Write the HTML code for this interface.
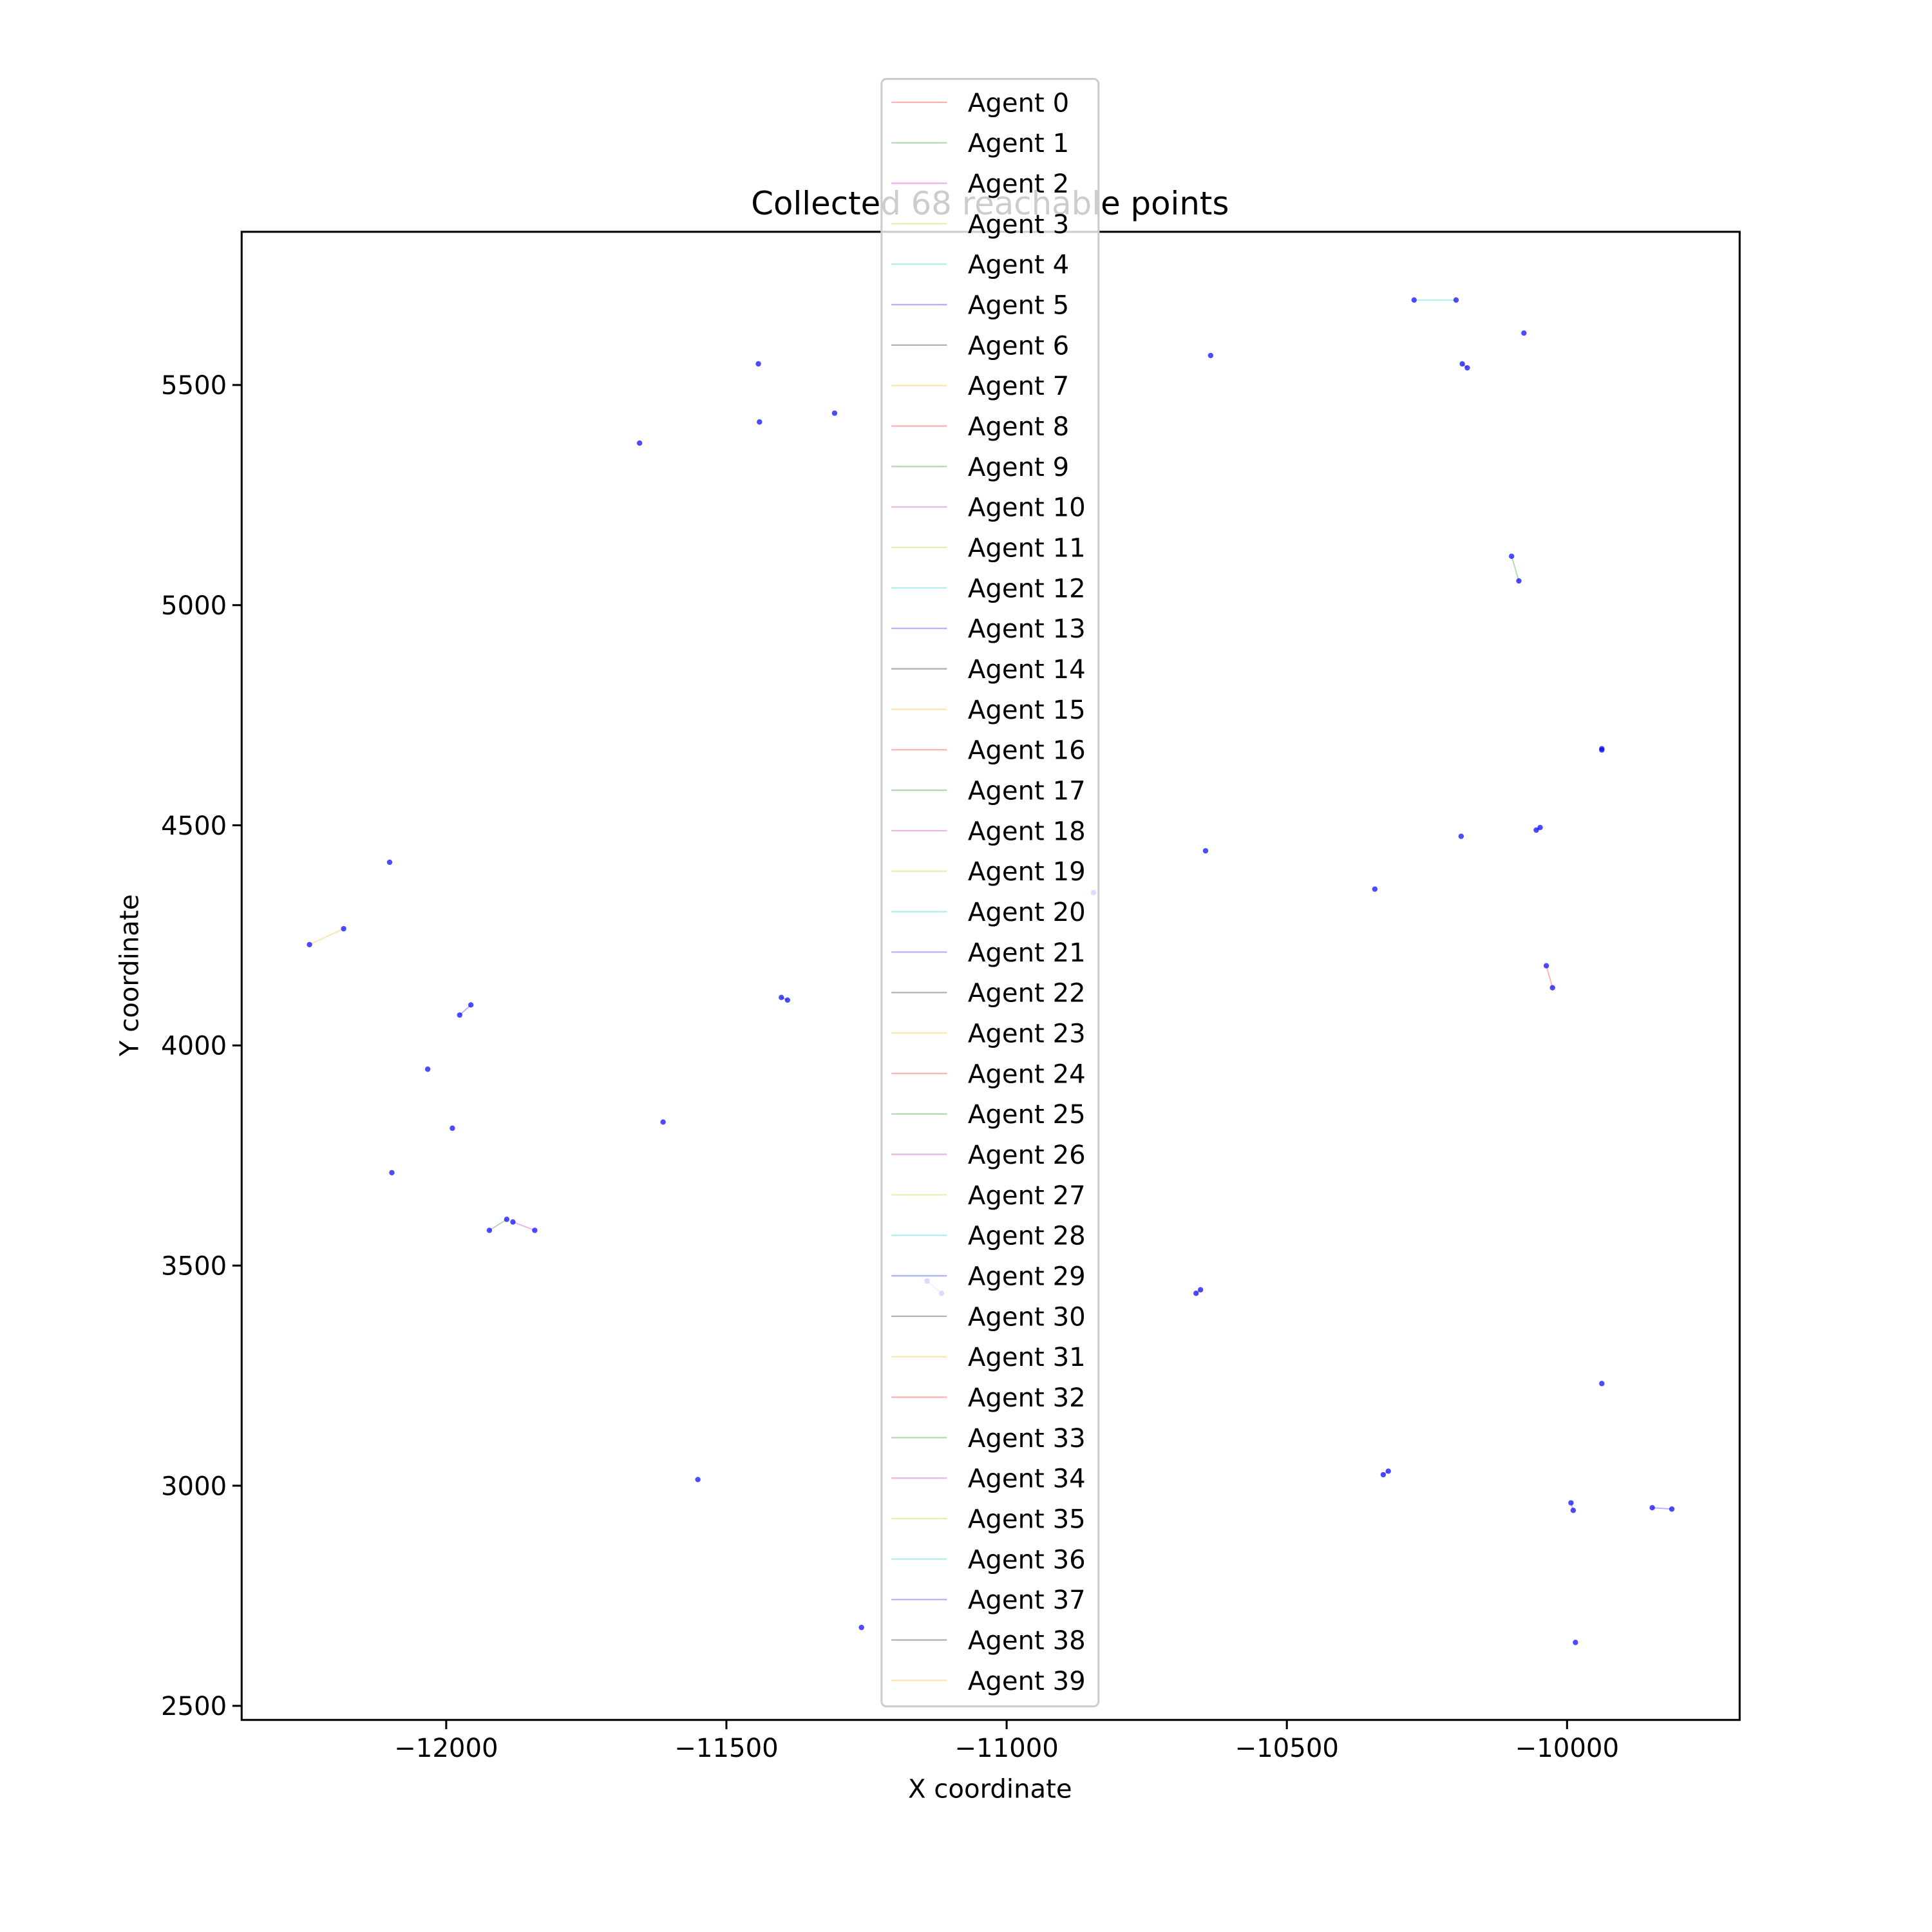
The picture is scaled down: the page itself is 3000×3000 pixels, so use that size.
<!DOCTYPE html>
<html><head><meta charset="utf-8"><style>
html,body{margin:0;padding:0;background:#fff;}
svg{display:block;font-family:"DejaVu Sans","Liberation Sans",sans-serif;}
</style></head><body>
<svg id="chart" width="3000" height="3000" viewBox="0 0 1567 1567" xmlns="http://www.w3.org/2000/svg">
<rect width="1567" height="1567" fill="#fff"/>
<g id="plot"></g>
<text x="803" y="174" font-size="26" text-anchor="middle">Collected 68 reachable points</text>
<g id="axes"></g>
<g id="legend"></g>
</svg>
<script>
const xTicks = [-12000, -11500, -11000, -10500, -10000];
const yTicks = [2500, 3000, 3500, 4000, 4500, 5000, 5500];
const agentIds = [4, 26, 30, 31, 12, 17, 20, 22, 1, 28, 37, 33, 23, 35, 38, 3, 7, 0, 5, 6, 10, 8, 11, 14, 9, 2, 21, 16, 19, 24, 25, 18, 13, 27, 34];
const agentXs = [
 [-10273,-10198],[-10077],[-10187,-10178],[-10636],[-11443],[-11441],[-11307],[-11655],
 [-10099,-10086],[-9938,-9938],[-10048,-10055],[-10189],[-10645],[-10845],[-10343],[-12101],
 [-12244,-12183],[-10037,-10026],[-11976,-11956],[-11402,-11391],[-12033],[-11613],[-11989],[-12097],
 [-11923,-11892],[-11881,-11842],[-11142,-11116],[-10662,-10654],[-9938],[-10328,-10319],[-11551],
 [-9993,-9989],[-9848,-9813],[-11259],[-9985]
];
const agentYs = [
 [5693,5693],[5618],[5548,5539],[5567],[5548],[5416],[5436],[5368],
 [5111,5055],[4671,4674],[4495,4489],[4475],[4442],[4347],[4355],[4416],
 [4229,4265],[4181,4131],[4069,4092],[4109,4103],[3946],[3826],[3812],[3711],
 [3580,3605],[3599,3580],[3465,3437],[3437,3445],[3232],[3025,3033],[3014],
 [2961,2944],[2950,2947],[2678],[2644]
];
const palette = ['#ff0000','#008000','#bf00bf','#bfbf00','#00bfbf','#0000ff','#000000','#ffa500'];
const legendLabels = [];
for (let i = 0; i < 40; i++) legendLabels.push('Agent ' + i);

const X0=196, X1=1411, Y0=188, Y1=1395;
const xMin=-12365, xMax=-9692, yMin=2468, yMax=5848;
const sx = v => X0 + (v - xMin) / (xMax - xMin) * (X1 - X0);
const sy = v => Y1 - (v - yMin) / (yMax - yMin) * (Y1 - Y0);
const NS = 'http://www.w3.org/2000/svg';
function mk(tag, attrs, parent){const e=document.createElementNS(NS,tag);for(const k in attrs)e.setAttribute(k,attrs[k]);parent.appendChild(e);return e;}
const plot=document.getElementById('plot'), axes=document.getElementById('axes'), legend=document.getElementById('legend');

agentIds.forEach((id, i) => {
  const xs = agentXs[i], ys = agentYs[i];
  if (xs.length > 1) {
    const pts = xs.map((x,j)=>sx(x)+','+sy(ys[j])).join(' ');
    const pl = mk('polyline',{points:pts,fill:'none',stroke:palette[id%8],'stroke-opacity':0.3,'stroke-width':1},plot);
    
    
  }
  xs.forEach((x,j) => {
    const c = mk('circle',{cx:sx(x),cy:sy(ys[j]),r:2.2,fill:'#0000ff','fill-opacity':0.7},plot);
    
    
  });
});

const frame = mk('rect',{x:X0,y:Y0,width:X1-X0,height:Y1-Y0,fill:'none',stroke:'#000','stroke-width':1.6},axes);


xTicks.forEach(t => {
  const x = sx(t);
  mk('line',{x1:x,x2:x,y1:Y1,y2:Y1+7.5,stroke:'#000','stroke-width':1.6},axes);
  const tx = mk('text',{x:x,y:Y1+30,'font-size':21,'text-anchor':'middle'},axes);
  tx.textContent = '\u2212' + Math.abs(t);
  
  
});
yTicks.forEach(t => {
  const y = sy(t);
  mk('line',{x1:X0-7.5,x2:X0,y1:y,y2:y,stroke:'#000','stroke-width':1.6},axes);
  const tx = mk('text',{x:X0-12,y:y+7.5,'font-size':21,'text-anchor':'end'},axes);
  tx.textContent = t;
  
  
});
const xl = mk('text',{x:803,y:1458,'font-size':21,'text-anchor':'middle'},axes);
xl.textContent = 'X coordinate';


const yl = mk('text',{x:112,y:791,'font-size':21,'text-anchor':'middle',transform:'rotate(-90 112 791)'},axes);
yl.textContent = 'Y coordinate';



const lb = mk('rect',{x:715,y:64,width:176,height:1320,rx:4,fill:'#fff','fill-opacity':0.8,stroke:'#ccc','stroke-width':1.6},legend);


legendLabels.forEach((lab, i) => {
  const y = 83 + i * 32.82;
  const g = mk('g',{},legend);
  
  
  mk('line',{x1:723,x2:768,y1:y,y2:y,stroke:palette[i%8],'stroke-opacity':0.3,'stroke-width':1.2},g);
  const t = mk('text',{x:785,y:y+7.5,'font-size':21},g);
  t.textContent = lab;
});
</script>
</body></html>
